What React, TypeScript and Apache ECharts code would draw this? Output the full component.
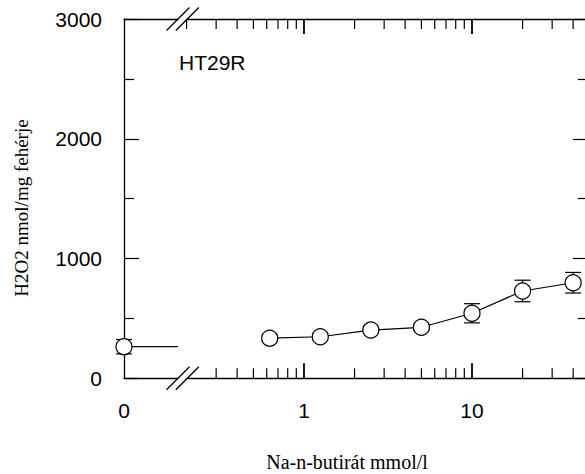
import React, { useEffect, useRef } from "react";
import * as echarts from "echarts";

// ---- data ----
const concentrations = [0.625, 1.25, 2.5, 5, 10, 20, 40];
const h2o2Values = [335, 347, 403, 426, 543, 729, 798];
const h2o2Errors = [25, 25, 25, 25, 80, 90, 86];
const controlX = [0];
const controlValue = [264];
const controlError = [60];
const logMinorTicks = [0.3, 0.4, 0.5, 0.6, 0.7, 0.8, 0.9, 2, 3, 4, 5, 6, 7, 8, 9, 20, 30, 40];
const logTopOnlyTicks = [0.2];
const logMajorTicks = [1, 10];
const xLabels = [0, 1, 10];
const yMin = 0;
const yMax = 3000;
const yInterval = 1000;
const logMin = 0.2;
const logMax = 49;
const ctrlAxisMax = 1;

const SANS = "'Liberation Sans', Arial, sans-serif";
const SERIF = "'Liberation Serif', 'Times New Roman', serif";

// geometry
const G1 = { left: 124, top: 19, width: 54, height: 359.3 };
const G2 = { left: 186.56, top: 19, width: 401.4, height: 359.3 };

export default function App() {
  const ref = useRef<HTMLDivElement>(null);
  useEffect(() => {
    if (!ref.current) return;
    const chart = echarts.init(ref.current, null, { renderer: "svg" });
    const axisLine = { show: true, lineStyle: { color: "#000", width: 1.3 } };
    const yAxisCommon = {
      type: "value",
      min: yMin,
      max: yMax,
      interval: yInterval,
      splitLine: { show: false },
      axisLine,
      axisTick: { show: true, inside: true, length: 15, lineStyle: { color: "#000", width: 1.2 } },
      minorTick: { show: true, splitNumber: 2, length: 10, lineStyle: { color: "#000", width: 1.2 } },
      minorSplitLine: { show: false },
    };
    const labelStyle = { color: "#000", fontFamily: SANS, fontSize: 21, margin: 22 };

    const tickData = [
      ...logMinorTicks.map((v) => [v, 0, 1]),
      ...logTopOnlyTicks.map((v) => [v, 0, 0]),
      ...logMajorTicks.map((v) => [v, 1, 1]),
    ];

    const errRender = (params: any, api: any) => {
      const x = api.value(0);
      const y = api.value(1);
      const e = api.value(2);
      const top = api.coord([x, y + e]);
      const bot = api.coord([x, y - e]);
      const hw = 8;
      const style = { stroke: "#000", lineWidth: 1.2 };
      return {
        type: "group",
        children: [
          { type: "line", shape: { x1: top[0], y1: top[1], x2: bot[0], y2: bot[1] }, style },
          { type: "line", shape: { x1: top[0] - hw, y1: top[1], x2: top[0] + hw, y2: top[1] }, style },
          { type: "line", shape: { x1: bot[0] - hw, y1: bot[1], x2: bot[0] + hw, y2: bot[1] }, style },
        ],
      };
    };

    const slash = (cx: number, cy: number) => ({
      type: "line",
      shape: { x1: cx - 11.5, y1: cy + 11.5, x2: cx + 11.5, y2: cy - 11.5 },
      style: { stroke: "#000", lineWidth: 1.3 },
      z: 100,
    });
    const leftBreak = G1.left + G1.width;
    const rightBreak = G2.left + 0.8;
    const bottomY = G1.top + G1.height;

    chart.setOption({
      animation: false,
      backgroundColor: "#fff",
      grid: [
        { ...G1, containLabel: false, outerBoundsMode: "none" },
        { ...G2, containLabel: false, outerBoundsMode: "none" },
      ],
      xAxis: [
        {
          type: "value", gridIndex: 0, position: "bottom", min: 0, max: ctrlAxisMax, interval: 1,
          axisLine, axisTick: { show: false }, splitLine: { show: false },
          axisLabel: { ...labelStyle, formatter: (v: number) => (xLabels.includes(v) && v === 0 ? String(v) : "") },
        },
        {
          type: "value", gridIndex: 0, position: "top", min: 0, max: ctrlAxisMax, interval: 1,
          axisLine, axisTick: { show: false }, splitLine: { show: false }, axisLabel: { show: false },
        },
        {
          type: "log", logBase: 10, gridIndex: 1, position: "bottom", min: logMin, max: logMax,
          axisLine, axisTick: { show: false }, splitLine: { show: false }, minorTick: { show: false },
          axisLabel: {
            ...labelStyle,
            showMinLabel: true,
            showMaxLabel: true,
            formatter: (v: number) => {
              const hit = xLabels.find((l) => l > 0 && Math.abs(l - v) < 1e-6);
              return hit !== undefined ? String(hit) : "";
            },
          },
        },
        {
          type: "log", logBase: 10, gridIndex: 1, position: "top", min: logMin, max: logMax,
          axisLine, axisTick: { show: false }, splitLine: { show: false }, axisLabel: { show: false },
        },
      ],
      yAxis: [
        {
          ...yAxisCommon, gridIndex: 0, position: "left",
          axisLabel: { ...labelStyle, formatter: (v: number) => String(v) },
        },
        {
          ...yAxisCommon, gridIndex: 1, position: "right",
          axisLabel: { show: false },
        },
      ],
      series: [
        // log axis ticks
        {
          type: "custom",
          xAxisIndex: 2,
          yAxisIndex: 1,
          silent: true,
          clip: false,
          data: tickData,
          renderItem: (params: any, api: any) => {
            const v = api.value(0);
            const major = api.value(1) === 1;
            const bottom = api.value(2) === 1;
            const pb = api.coord([v, yMin]);
            const pt = api.coord([v, yMax]);
            const len = major ? 15 : 10;
            const style = { stroke: "#000", lineWidth: major ? 1.8 : 1.2 };
            const children: any[] = [
              { type: "line", shape: { x1: pt[0], y1: pt[1], x2: pt[0], y2: pt[1] + len }, style },
            ];
            if (bottom) {
              children.push({ type: "line", shape: { x1: pb[0], y1: pb[1], x2: pb[0], y2: pb[1] - len }, style });
            }
            return { type: "group", children };
          },
        },
        // error bars (treated)
        {
          type: "custom",
          xAxisIndex: 2,
          yAxisIndex: 1,
          clip: false,
          z: 1,
          data: concentrations.map((c, i) => [c, h2o2Values[i], h2o2Errors[i]]),
          renderItem: errRender,
        },
        // error bars (control)
        {
          type: "custom",
          xAxisIndex: 0,
          yAxisIndex: 0,
          clip: false,
          z: 1,
          data: controlX.map((c, i) => [c, controlValue[i], controlError[i]]),
          renderItem: errRender,
        },
        // control reference segment
        {
          type: "line",
          xAxisIndex: 0,
          yAxisIndex: 0,
          showSymbol: false,
          clip: false,
          z: 2,
          lineStyle: { color: "#000", width: 1.2 },
          data: [
            [controlX[0], controlValue[0]],
            [ctrlAxisMax, controlValue[0]],
          ],
        },
        // control point
        {
          type: "scatter",
          xAxisIndex: 0,
          yAxisIndex: 0,
          clip: false,
          z: 3,
          symbol: "circle",
          symbolSize: 16,
          itemStyle: { color: "#fff", borderColor: "#000", borderWidth: 1.2, opacity: 1 },
          data: controlX.map((c, i) => [c, controlValue[i]]),
        },
        // treated series
        {
          type: "line",
          xAxisIndex: 2,
          yAxisIndex: 1,
          clip: false,
          z: 3,
          symbol: "circle",
          symbolSize: 16,
          showSymbol: true,
          lineStyle: { color: "#000", width: 1.2 },
          itemStyle: { color: "#fff", borderColor: "#000", borderWidth: 1.2 },
          data: concentrations.map((c, i) => [c, h2o2Values[i]]),
        },
      ],
      graphic: [
        slash(leftBreak, G1.top),
        slash(rightBreak, G1.top),
        slash(leftBreak, bottomY),
        slash(rightBreak, bottomY),
        {
          type: "text",
          x: 179,
          y: 62,
          style: { text: "HT29R", fill: "#000", font: `21px ${SANS}`, textAlign: "left", textVerticalAlign: "middle" },
        },
        {
          type: "text",
          x: 21,
          y: 208,
          rotation: Math.PI / 2,
          style: { text: "H2O2 nmol/mg fehérje", fill: "#000", font: `19px ${SERIF}`, textAlign: "center", textVerticalAlign: "middle" },
        },
        {
          type: "text",
          x: 347,
          y: 462,
          style: { text: "Na-n-butirát mmol/l", fill: "#000", font: `20px ${SERIF}`, textAlign: "center", textVerticalAlign: "middle" },
        },
      ],
    });
    return () => chart.dispose();
  }, []);
  return (
    <div
      ref={ref}
      style={{ position: "absolute", left: 0, top: 0, width: 585, height: 474, background: "#fff" }}
    />
  );
}
